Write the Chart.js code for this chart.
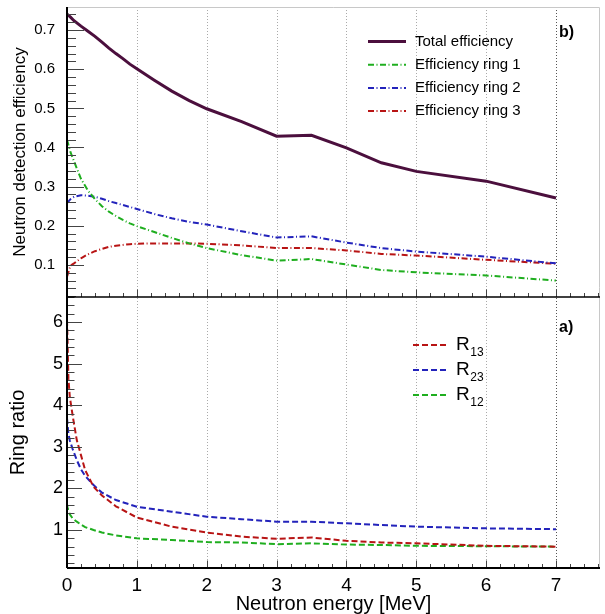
<!DOCTYPE html>
<html>
<head>
<meta charset="utf-8">
<title>Neutron detection efficiency and ring ratios</title>
<script src="https://cdn.jsdelivr.net/npm/chart.js@4.4.1/dist/chart.umd.min.js"></script>
<style>
  html, body { margin: 0; padding: 0; background: #fff; }
  canvas { display: block; }
</style>
</head>
<body>
<canvas id="myChart" width="605" height="614"></canvas>
<script>
// panel b) : detection efficiency vs neutron energy [MeV]
const effEnergy = [0, 0.05, 0.1, 0.2, 0.3, 0.4, 0.5, 0.6, 0.7, 0.8, 0.9, 1.0, 1.25, 1.5, 1.75, 2.0, 2.5, 3.0, 3.5, 4.0, 4.5, 5.0, 6.0, 7.0];
const totalEff = [0.741, 0.733, 0.724, 0.71, 0.697, 0.684, 0.669, 0.654, 0.64, 0.627, 0.613, 0.601, 0.572, 0.544, 0.52, 0.499, 0.466, 0.429, 0.431, 0.399, 0.361, 0.339, 0.314, 0.271];
const ring1Eff = [0.42, 0.388, 0.365, 0.32, 0.29, 0.268, 0.25, 0.236, 0.225, 0.215, 0.206, 0.199, 0.184, 0.169, 0.155, 0.143, 0.125, 0.111, 0.115, 0.101, 0.087, 0.081, 0.073, 0.06];
const ring2Eff = [0.258, 0.268, 0.274, 0.278, 0.277, 0.274, 0.269, 0.263, 0.258, 0.253, 0.248, 0.243, 0.23, 0.219, 0.21, 0.203, 0.186, 0.17, 0.173, 0.157, 0.143, 0.134, 0.121, 0.104];
const ring3Eff = [0.07, 0.098, 0.104, 0.117, 0.127, 0.135, 0.141, 0.146, 0.149, 0.151, 0.153, 0.154, 0.155, 0.155, 0.155, 0.154, 0.15, 0.143, 0.143, 0.137, 0.128, 0.124, 0.113, 0.103];

// panel a) : ring ratios
const ratioEnergy = [0, 0.01, 0.02, 0.04, 0.08, 0.14, 0.2, 0.26, 0.38, 0.5, 0.7, 1.0, 1.5, 2.0, 2.5, 3.0, 3.5, 4.0, 4.5, 5.0, 6.0, 7.0];
const r13 = [6.05, 5.4, 4.65, 4.2, 3.76, 3.16, 2.8, 2.44, 2.04, 1.83, 1.57, 1.3, 1.08, 0.94, 0.84, 0.79, 0.82, 0.74, 0.7, 0.68, 0.62, 0.6];
const r23 = [3.69, 3.5, 3.32, 3.15, 2.95, 2.68, 2.46, 2.3, 2.08, 1.9, 1.72, 1.56, 1.44, 1.32, 1.26, 1.2, 1.2, 1.16, 1.12, 1.08, 1.04, 1.02];
const r12 = [1.62, 1.52, 1.46, 1.38, 1.28, 1.2, 1.13, 1.07, 1.0, 0.94, 0.87, 0.8, 0.76, 0.71, 0.7, 0.66, 0.68, 0.65, 0.64, 0.62, 0.61, 0.6];

// tick labels
const xTicks = [0, 1, 2, 3, 4, 5, 6, 7];
const effTicks = [0.1, 0.2, 0.3, 0.4, 0.5, 0.6, 0.7];
const ratioTicks = [1, 2, 3, 4, 5, 6];

const fontFamily = "'Liberation Sans', Arial, Helvetica, sans-serif";
const dashDot = [6, 2.5, 1, 2.5];
const dashed = [6, 3];

function pts(xs, ys) {
    return xs.map((x, i) => ({ x: x, y: ys[i] }));
}

// no extra room for half tick labels, the frame is fixed
function fixY(axis) {
    axis.width = 67;
    axis.paddingTop = 0;
    axis.paddingBottom = 0;
}

// ROOT like frame: dotted verticals, inward ticks, axis lines
const rootFrame = {
    id: "rootFrame",
    beforeDatasetsDraw(chart) {
        const { ctx, chartArea, scales } = chart;
        ctx.save();
        ctx.lineWidth = 1;
        ctx.setLineDash([1, 2]);
        xTicks.forEach(v => {
            if (v === 0) return;
            const px = Math.round(scales.x.getPixelForValue(v)) + 0.5;
            ctx.strokeStyle = v === 7 ? "#555" : "#aaa";
            ctx.beginPath();
            ctx.moveTo(px, chartArea.top);
            ctx.lineTo(px, chartArea.bottom);
            ctx.stroke();
        });
        ctx.restore();
    },
    afterDatasetsDraw(chart) {
        const { ctx, chartArea, scales } = chart;
        const x = scales.x;
        const left = chartArea.left;
        ctx.save();

        // light top / right border
        ctx.strokeStyle = "#c8c8c8";
        ctx.lineWidth = 1;
        ctx.beginPath();
        ctx.moveTo(left, chartArea.top + 0.5);
        ctx.lineTo(chartArea.right - 0.5, chartArea.top + 0.5);
        ctx.lineTo(chartArea.right - 0.5, chartArea.bottom);
        ctx.stroke();

        ctx.strokeStyle = "#444";
        const panels = [
            { y: scales.yEff, step: 0.02, major: 17, minor: 9 },
            { y: scales.yRatio, step: 0.2, major: 15, minor: 7.5 }
        ];
        panels.forEach(p => {
            const s = p.y;
            // y ticks, pointing right into the frame
            for (let k = Math.ceil(s.min / p.step - 1e-9); k * p.step <= s.max + 1e-9; k++) {
                const py = Math.round(s.getPixelForValue(k * p.step)) + 0.5;
                const len = k % 5 === 0 ? p.major : p.minor;
                ctx.beginPath();
                ctx.moveTo(left, py);
                ctx.lineTo(left + len, py);
                ctx.stroke();
            }
            // x ticks on the bottom edge of each panel, pointing up
            for (let k = 0; k * 0.2 <= x.max + 1e-9; k++) {
                const px = Math.round(x.getPixelForValue(k * 0.2)) + 0.5;
                const len = k % 5 === 0 ? 7.5 : 4;
                ctx.beginPath();
                ctx.moveTo(px, s.bottom);
                ctx.lineTo(px, s.bottom - len);
                ctx.stroke();
            }
        });

        // black axis lines
        ctx.strokeStyle = "#000";
        ctx.lineWidth = 2;
        ctx.beginPath();
        ctx.moveTo(left, chartArea.top);
        ctx.lineTo(left, chartArea.bottom);
        ctx.moveTo(left, chartArea.bottom);
        ctx.lineTo(chartArea.right, chartArea.bottom);
        ctx.stroke();
        ctx.lineWidth = 1.5;
        ctx.beginPath();
        ctx.moveTo(left, scales.yEff.bottom);
        ctx.lineTo(chartArea.right, scales.yEff.bottom);
        ctx.stroke();
        ctx.restore();
    }
};

// legend boxes drawn like the ROOT TLegend, plus the panel tags
const boxLegend = {
    id: "boxLegend",
    afterDraw(chart, args, opts) {
        const { ctx } = chart;
        opts.groups.forEach(g => {
            g.items.forEach((idx, row) => {
                const ds = chart.data.datasets[idx];
                const y = g.y + row * g.dy;
                ctx.save();
                ctx.strokeStyle = ds.borderColor;
                ctx.lineWidth = ds.borderWidth;
                ctx.setLineDash(ds.borderDash || []);
                ctx.beginPath();
                ctx.moveTo(g.x0, y);
                ctx.lineTo(g.x1, y);
                ctx.stroke();
                ctx.setLineDash([]);
                ctx.fillStyle = "#000";
                ctx.textBaseline = "middle";
                ctx.font = g.size + "px " + fontFamily;
                const parts = ds.label.split("_");
                ctx.fillText(parts[0], g.tx, y);
                if (parts[1]) {
                    const w = ctx.measureText(parts[0]).width;
                    ctx.font = g.subSize + "px " + fontFamily;
                    ctx.fillText(parts[1], g.tx + w + 0.5, y + g.subShift);
                }
                ctx.restore();
            });
        });
        ctx.save();
        ctx.fillStyle = "#000";
        ctx.font = "bold 16px " + fontFamily;
        ctx.textBaseline = "middle";
        opts.tags.forEach(t => ctx.fillText(t.text, t.x, t.y));
        ctx.restore();
    }
};

const ctx = document.getElementById("myChart").getContext("2d");
const myChart = new Chart(ctx, {
    type: "line",
    data: {
        datasets: [
            { label: "Total efficiency", data: pts(effEnergy, totalEff), yAxisID: "yEff", borderColor: "#4b0f3d", borderWidth: 3 },
            { label: "Efficiency ring 1", data: pts(effEnergy, ring1Eff), yAxisID: "yEff", borderColor: "#1fae1f", borderWidth: 2, borderDash: dashDot },
            { label: "Efficiency ring 2", data: pts(effEnergy, ring2Eff), yAxisID: "yEff", borderColor: "#2323bb", borderWidth: 2, borderDash: dashDot },
            { label: "Efficiency ring 3", data: pts(effEnergy, ring3Eff), yAxisID: "yEff", borderColor: "#b81414", borderWidth: 2, borderDash: dashDot },
            { label: "R_13", data: pts(ratioEnergy, r13), yAxisID: "yRatio", borderColor: "#b81414", borderWidth: 2, borderDash: dashed },
            { label: "R_23", data: pts(ratioEnergy, r23), yAxisID: "yRatio", borderColor: "#2323bb", borderWidth: 2, borderDash: dashed },
            { label: "R_12", data: pts(ratioEnergy, r12), yAxisID: "yRatio", borderColor: "#1fae1f", borderWidth: 2, borderDash: dashed }
        ]
    },
    options: {
        responsive: false,
        animation: false,
        events: [],
        layout: { padding: { top: 7, right: 5, left: 0, bottom: 0 } },
        elements: { point: { radius: 0 }, line: { tension: 0, fill: false } },
        plugins: {
            legend: { display: false },
            tooltip: { enabled: false },
            boxLegend: {
                groups: [
                    { items: [0, 1, 2, 3], x0: 368, x1: 406, tx: 415, y: 41.5, dy: 23.2, size: 15 },
                    { items: [4, 5, 6], x0: 413, x1: 447, tx: 456, y: 345, dy: 25, size: 19, subSize: 12, subShift: 8 }
                ],
                tags: [{ text: "b)", x: 559, y: 33 }, { text: "a)", x: 559, y: 328 }]
            }
        },
        scales: {
            x: {
                type: "linear",
                min: 0,
                max: 7.63,
                afterBuildTicks: axis => { axis.ticks = xTicks.map(v => ({ value: v })); },
                afterFit: axis => { axis.height = 46; axis.paddingLeft = 0; axis.paddingRight = 0; },
                grid: { display: false, drawTicks: false },
                border: { display: false },
                ticks: { color: "#000", padding: 6, maxRotation: 0, font: { family: fontFamily, size: 19 } },
                title: { display: true, text: "Neutron energy [MeV]", color: "#000", padding: { top: 0, bottom: 0 }, font: { family: fontFamily, size: 20, lineHeight: 1 } }
            },
            yEff: {
                type: "linear",
                position: "left",
                stack: "panels",
                stackWeight: 290,
                weight: 1,
                min: 0.018,
                max: 0.759,
                afterBuildTicks: axis => { axis.ticks = effTicks.map(v => ({ value: v })); },
                afterFit: fixY,
                grid: { display: false, drawTicks: false },
                border: { display: false },
                ticks: { color: "#000", padding: 12, font: { family: fontFamily, size: 15 } },
                title: { display: true, text: "Neutron detection efficiency", color: "#000", padding: { top: 10, bottom: 0 }, font: { family: fontFamily, size: 17 } }
            },
            yRatio: {
                type: "linear",
                position: "left",
                stack: "panels",
                stackWeight: 271,
                weight: 0,
                min: 0.087,
                max: 6.6,
                afterBuildTicks: axis => { axis.ticks = ratioTicks.map(v => ({ value: v })); },
                afterFit: fixY,
                grid: { display: false, drawTicks: false },
                border: { display: false },
                ticks: { color: "#000", padding: 4, font: { family: fontFamily, size: 18 } },
                title: { display: true, text: "Ring ratio", color: "#000", padding: { top: 6, bottom: 0 }, font: { family: fontFamily, size: 20 } }
            }
        }
    },
    plugins: [rootFrame, boxLegend]
});
</script>
</body>
</html>
